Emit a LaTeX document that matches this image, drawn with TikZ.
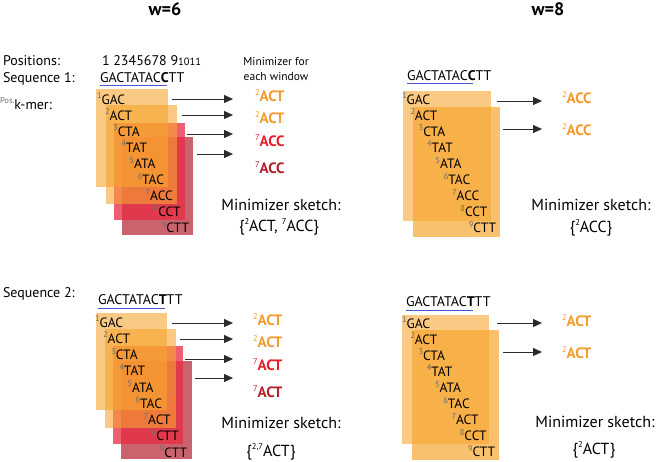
\documentclass[tikz,border=0pt]{standalone}
\usepackage{fontspec}
\setmainfont{PT Sans}
\usetikzlibrary{arrows.meta}
\definecolor{boxor}{HTML}{F7A530}
\definecolor{boxrd}{HTML}{E82B40}
\definecolor{boxdr}{HTML}{B7303E}
\definecolor{minor}{HTML}{F39C2B}
\definecolor{minrd}{HTML}{E61E2B}
\definecolor{mindr}{HTML}{B41F2E}
\definecolor{numgray}{HTML}{6E6E6E}
\definecolor{ulblue}{HTML}{4A56D8}
\definecolor{arrgray}{HTML}{2B2B2B}
\newcommand{\ks}[1]{\raisebox{0.8ex}{\fontsize{8.5}{9}\selectfont\color{numgray}#1}}
\newcommand{\ms}[1]{\raisebox{0.8ex}{\fontsize{8.5}{9}\selectfont\mdseries #1}}
\begin{document}
\begin{tikzpicture}[x=1pt,y=-1pt,
  txt/.style={inner sep=0pt, outer sep=0pt, anchor=base west},
  lbl/.style={txt, font=\fontsize{14}{16}\selectfont},
  kmer/.style={txt, font=\fontsize{13.5}{15}\selectfont},
  mini/.style={txt, font=\fontsize{15}{17}\selectfont\bfseries},
  sketch/.style={inner sep=0pt, anchor=base, font=\fontsize{16}{18}\selectfont},
  small/.style={inner sep=0pt, anchor=base, font=\fontsize{11.5}{13}\selectfont},
  title/.style={inner sep=0pt, anchor=base, font=\fontsize{18}{20}\selectfont\bfseries},
  arr/.style={draw=arrgray, line width=0.8pt, -{Triangle[length=9pt,width=8pt]}},
  uline/.style={draw=ulblue, line width=0.8pt},
  win1/.style={fill=boxor, fill opacity=0.6},
  win2/.style={fill=boxor, fill opacity=0.6},
  win2b/.style={fill=boxor, fill opacity=0.7},
  win3/.style={fill=boxrd, fill opacity=0.75},
  win4/.style={fill=boxdr, fill opacity=0.75},
]
\useasboundingbox (0,0) rectangle (660,461);

% titles
\node[title] (t6) at (165,15) {w=6};
\node[title] (t8) at (548,15) {w=8};

% labels
\node[lbl] (lpos) at (3,65) {Positions:};
\node[lbl] (lseq1) at (3,82) {Sequence 1:};
\node[lbl] (lkmer) at (0,109) {\ks{Pos.}k-mer:};
\node[lbl] (lseq2) at (3,297) {Sequence 2:};
\node[lbl] (digits) at (102,65) {1 2345678 9{\fontsize{10.5}{12}\selectfont 1011}};
\node[small] (mfor) at (276,65) {Minimizer for};
\node[small] (mwin) at (276,80) {each window};

% ================= top left (w=6, seq 1)
\node[lbl] (s1a) at (100,82) {GACTATAC\textbf{C}TT};
\draw[uline] (100,85.5) -- (167,85.5);
\fill[win4] (122,137) rectangle (193,235);
\fill[win3] (114,123) rectangle (185,220);
\fill[win2] (106,105) rectangle (177,204);
\fill[win1] (96,89) rectangle (168,187);
\foreach \s [count=\i] in {GAC,ACT,CTA,TAT,ATA,TAC,ACC,CCT,CTT}
  \node[kmer] (tl\i) at ({97+8.1*(\i-1)},{104+16.1*(\i-1)}) {\ks{\i}\s};
\foreach \xa/\yy [count=\i] in {172/99,182/115,187/134,197/154}{
  \coordinate (tla\i) at (\xa,\yy);
  \coordinate (tlb\i) at (233,\yy);
  \draw[arr] (tla\i) -- (tlb\i);
}
\node[mini, text=minor] (tlm1) at (255,101) {\ms{2}ACT};
\node[mini, text=minor] (tlm2) at (255,123) {\ms{2}ACT};
\node[mini, text=minrd] (tlm3) at (255,146) {\ms{7}ACC};
\node[mini, text=mindr] (tlm4) at (255,173) {\ms{7}ACC};
\node[sketch] (tls1) at (281,210) {Minimizer sketch:};
\node[sketch] (tls2) at (279,231) {\{\ms{2}ACT, \ms{7}ACC\}};

% ================= top right (w=8, seq 1)
\node[lbl] (s1b) at (407,80) {GACTATAC\textbf{C}TT};
\draw[uline] (407,83.5) -- (473,83.5);
\fill[win1] (403,91) rectangle (491,221);
\fill[win2b] (413,107) rectangle (500,237);
\foreach \s [count=\i] in {GAC,ACT,CTA,TAT,ATA,TAC,ACC,CCT,CTT}
  \node[kmer] (tr\i) at ({402+8.35*(\i-1)},{104+16.1*(\i-1)}) {\ks{\i}\s};
\foreach \xa/\yy [count=\i] in {497/101,503/129}{
  \coordinate (tra\i) at (\xa,\yy);
  \coordinate (trb\i) at (542,\yy);
  \draw[arr] (tra\i) -- (trb\i);
}
\node[mini, text=minor] (trm1) at (562,103) {\ms{2}ACC};
\node[mini, text=minor] (trm2) at (562,135) {\ms{2}ACC};
\node[sketch] (trs1) at (591,210) {Minimizer sketch:};
\node[sketch] (trs2) at (591,232) {\{\ms{2}ACC\}};

% ================= bottom left (w=6, seq 2)
\node[lbl] (s2a) at (98,304) {GACTATAC\textbf{T}TT};
\draw[uline] (98,308) -- (165,308);
\fill[win4] (121,361) rectangle (192,459);
\fill[win3] (113,346) rectangle (183,444);
\fill[win2] (105,329) rectangle (176,428);
\fill[win1] (96,313) rectangle (167,410);
\foreach \s [count=\i] in {GAC,ACT,CTA,TAT,ATA,TAC,ACT,CTT,CTT}
  \node[kmer] (bl\i) at ({95+8.1*(\i-1)},{327+16.25*(\i-1)}) {\ks{\i}\s};
\foreach \xa/\yy [count=\i] in {172/323,180/339,185/359,195/378}{
  \coordinate (bla\i) at (\xa,\yy);
  \coordinate (blb\i) at (233,\yy);
  \draw[arr] (bla\i) -- (blb\i);
}
\node[mini, text=minor] (blm1) at (253,325) {\ms{2}ACT};
\node[mini, text=minor] (blm2) at (253,347) {\ms{2}ACT};
\node[mini, text=minrd] (blm3) at (253,370) {\ms{7}ACT};
\node[mini, text=mindr] (blm4) at (253,397) {\ms{7}ACT};
\node[sketch] (bls1) at (281,428) {Minimizer sketch:};
\node[sketch] (bls2) at (271,456) {\{\ms{2,7}ACT\}};

% ================= bottom right (w=8, seq 2)
\node[lbl] (s2b) at (406,306) {GACTATAC\textbf{T}TT};
\draw[uline] (406,310) -- (473,310);
\fill[win1] (402,315) rectangle (489,444);
\fill[win2b] (412,330) rectangle (499,460);
\foreach \s [count=\i] in {GAC,ACT,CTA,TAT,ATA,TAC,ACT,CCT,CTT}
  \node[kmer] (br\i) at ({402+8.25*(\i-1)},{328+16.1*(\i-1)}) {\ks{\i}\s};
\foreach \xa/\yy [count=\i] in {497/323,503/352}{
  \coordinate (bra\i) at (\xa,\yy);
  \coordinate (brb\i) at (542,\yy);
  \draw[arr] (bra\i) -- (brb\i);
}
\node[mini, text=minor] (brm1) at (562,326) {\ms{2}ACT};
\node[mini, text=minor] (brm2) at (562,358) {\ms{2}ACT};
\node[sketch] (brs1) at (595,427) {Minimizer sketch:};
\node[sketch] (brs2) at (594,454) {\{\ms{2}ACT\}};
\end{tikzpicture}
\end{document}
